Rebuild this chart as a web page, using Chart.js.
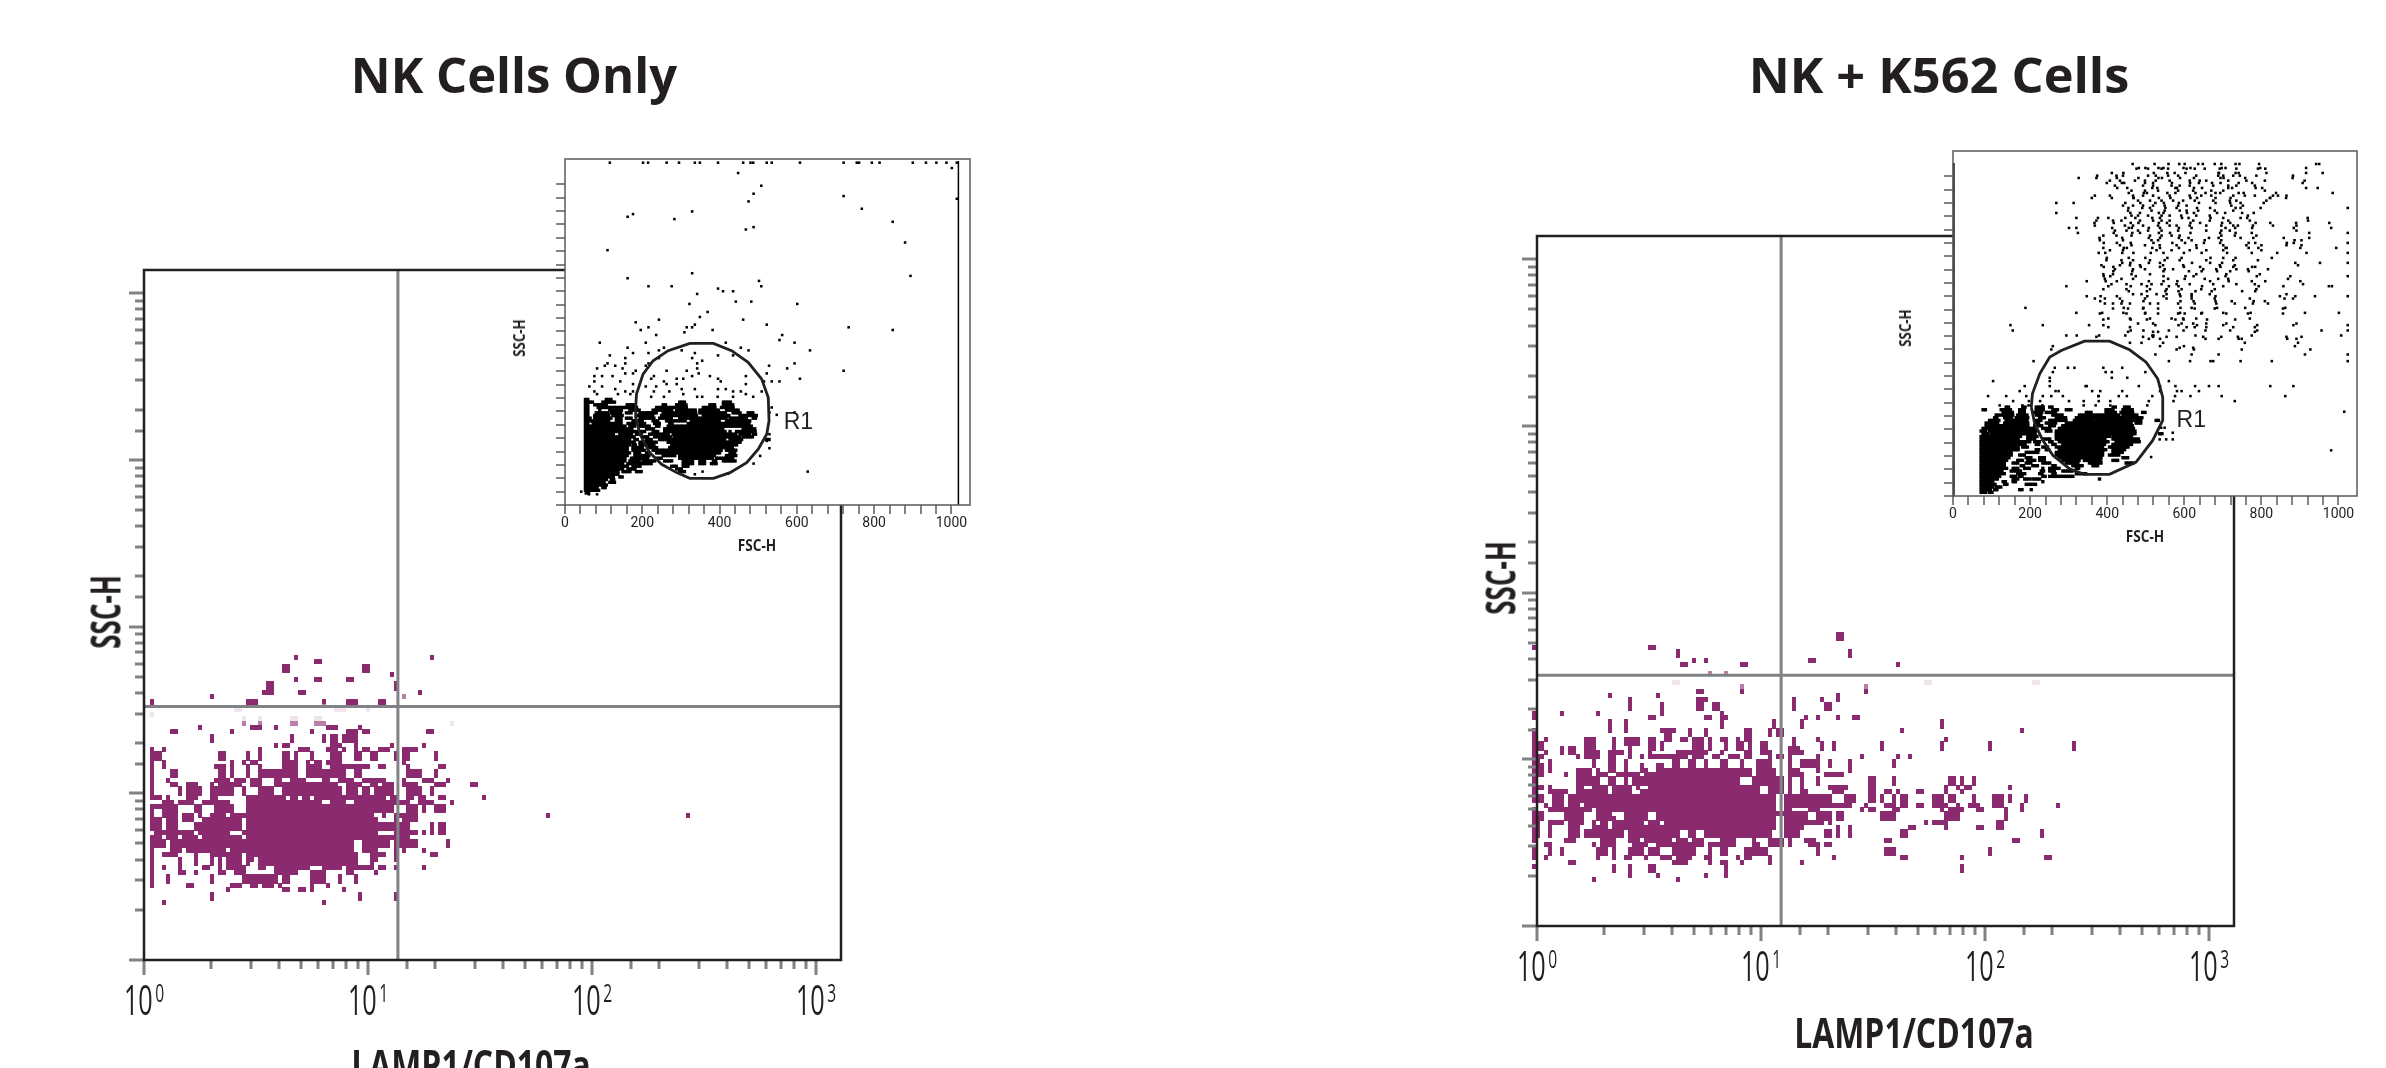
<!DOCTYPE html>
<html>
<head>
<meta charset="utf-8">
<title>NK Cells</title>
<script src="https://cdn.jsdelivr.net/npm/chart.js@4"></script>
<style>
html, body { margin: 0; background: #fff; width: 2386px; height: 1068px; overflow: hidden; }
canvas { position: absolute; }
.lbl { position: absolute; color: #231f20; white-space: nowrap; font-family: "Open Sans"; font-weight: 700; }
.title { font-size: 49px; transform: translate(-50%, -50%); }
.axis { font-size: 42px; transform: translate(-50%, -50%) scaleX(.76); }
.axisv { font-size: 42px; transform: translate(-50%, -50%) rotate(-90deg) scaleX(.62); }
.small { font-size: 16px; transform: translate(-50%, -50%) scaleX(.85); }
.smallv { font-size: 16px; transform: translate(-50%, -50%) rotate(-90deg) scaleX(.83); }
</style>
</head>
<body>
<canvas id="leftMain" style="left:0;top:200px"></canvas>
<canvas id="leftInset" style="left:520px;top:150px"></canvas>
<canvas id="rightMain" style="left:1400px;top:170px"></canvas>
<canvas id="rightInset" style="left:1900px;top:140px"></canvas>

<div class="lbl title" style="left:514px;top:74px">NK Cells Only</div>
<div class="lbl title" style="left:1939px;top:74px;transform:translate(-50%,-50%) scaleX(1.03)">NK + K562 Cells</div>
<div class="lbl axis" style="left:471px;top:1063px">LAMP1/CD107a</div>
<div class="lbl axis" style="left:1914px;top:1031px">LAMP1/CD107a</div>
<div class="lbl axisv" style="left:104px;top:612px">SSC-H</div>
<div class="lbl axisv" style="left:1499px;top:578px">SSC-H</div>
<div class="lbl small" style="left:757px;top:545px">FSC-H</div>
<div class="lbl small" style="left:2145px;top:536px">FSC-H</div>
<div class="lbl smallv" style="left:519px;top:338px">SSC-H</div>
<div class="lbl smallv" style="left:1905px;top:328px">SSC-H</div>

<script>
var decadeBase = "10";
var decadeExponents = ["0", "1", "2", "3"];
var fscLabels = [0, 200, 400, 600, 800, 1000];

// log plots: 56 LAMP1 channels and 38 SSC channels per decade
// each row is [ssc channel, from, to, from, to ...]
var leftCells = [
[69,38,38,72,72],[68,43,44],[67,35,36,55,56],[66,35,36,55,56],[65,62,62],[64,38,38,43,44,51,52],
[63,31,32,63,63],[62,31,32,63,63],[61,30,32,39,40,69,69],[60,17,17],[59,2,2,26,28,45,45,51,53,59,60],
[58,2,2,26,28,51,53,59,60],
[53,14,14,27,29,33,33,46,48,54,54],
[52,7,8,22,22,42,42,51,53,55,56,71,72],
[51,17,17,37,37,45,45,47,48,50,53],
[50,17,17,37,37,45,45,47,48,50,53],
[49,33,33,35,36,47,49,53,53,62,62,70,70],
[48,2,2,5,5,29,29,39,41,46,48,50,50,53,53,55,56,59,61,65,68],
[47,2,4,19,20,26,26,29,29,35,36,38,38,42,42,47,49,53,54,57,58,63,63,65,66,73,73],
[46,2,4,19,20,26,26,29,29,35,36,38,38,42,42,47,49,53,54,57,58,63,63,65,66,73,73],
[45,2,2,5,5,22,22,25,25,27,28,35,38,41,41,43,44,46,49,65,65],
[44,2,2,5,5,18,20,22,22,26,26,29,29,35,38,41,44,47,56,59,60,66,66,74,75],
[43,2,2,7,8,19,20,22,22,26,26,29,38,41,50,53,54,66,69,73,73],
[42,2,2,7,8,19,20,22,22,26,26,29,38,41,50,53,54,66,69,73,73],
[41,2,2,6,6,18,21,23,25,27,29,33,34,37,40,45,46,49,52,55,60,65,65,70,72,76,76],
[40,2,2,7,8,11,13,17,17,19,24,27,29,33,48,51,54,57,58,60,62,65,68,73,75,82,83],
[39,2,2,9,9,11,14,17,22,25,25,29,32,35,49,51,53,55,56,58,62,66,69,72,72],
[38,2,2,9,9,11,14,17,22,25,25,29,32,35,49,51,53,55,56,58,62,66,69,72,72],
[37,2,4,6,6,11,13,17,18,26,35,37,38,40,41,43,60,62,63,66,67,69,70,74,75,85,85],
[36,5,7,9,12,15,21,26,44,47,50,53,60,61,66,69,72,77,77],
[35,2,8,13,14,18,22,26,62,66,68,70,70,73,75],
[34,2,2,5,8,13,14,18,22,26,62,66,68,70,70,73,75],
[33,2,2,5,8,10,12,14,14,17,20,22,57,60,60,63,68,101,101,136,136],
[32,2,4,6,8,10,12,15,24,26,58,63,63,65,68],
[31,2,4,6,8,13,24,26,62,63,66,72,72,74,75],
[30,2,4,6,8,13,24,26,62,63,66,72,72,74,75],
[29,3,12,14,14,15,21,25,58,63,68,70,70,72,72,74,75],
[28,2,4,6,8,10,13,15,24,26,62,63,66],
[27,2,5,7,52,55,61,63,68,76,76],
[26,2,5,7,52,55,61,63,68,76,76],
[25,2,2,7,9,11,20,22,52,55,58,63,63,65,65,70,70],
[24,2,2,5,8,13,13,17,24,26,53,57,60,63,63,72,73],
[23,2,2,9,9,13,13,17,17,19,19,21,24,26,27,29,53,57,58,63,63],
[22,2,2,9,9,13,13,17,17,19,19,21,24,26,26,29,53,57,57],
[21,2,2,5,5,9,9,15,16,19,19,21,25,29,30,33,41,45,49,51,57,59,60,63,63,70,70],
[20,2,2,9,10,13,13,19,20,23,25,33,38,42,45,51,52,58,58],
[19,2,2,6,6,17,17,25,33,35,36,42,45,49,49,53,53],
[18,2,2,6,6,17,17,25,33,35,36,42,45,49,49,53,53],
[17,2,2,11,12,22,24,27,28,30,32,34,34,42,42,46,46],
[16,21,21,35,36,39,40,42,42,50,50],
[15,17,17,54,54,63,63],[14,17,17,54,54,63,63],[13,5,5,45,45]
];
var leftMid = [[60,65,65],[58,45,45],[54,25,25,29,29,37,38,43,45]];
var leftFaint = [[57,23,24,48,50,56,56],[56,2,2],[55,25,25,29,29,37,38,43,44],[54,77,77]];

var rightCells = [
[56,76,77],[55,76,77],[53,0,0,29,30],[52,36,36,79,79],[51,36,36,79,79],[50,40,40,43,43,69,70],[49,37,38,52,53,91,91],
[43,41,42,52,52,83,83],[42,19,19,31,31,76,76],[41,24,24,41,43,65,65,72,72,76,76],
[40,24,24,32,32,41,42,45,46,65,65,73,74],[39,24,24,32,32,41,42,45,46,65,65,73,74],
[38,0,0,7,7,16,16,32,32,47,47],[37,0,0,29,30,43,44,47,48,68,68,71,71,76,76,80,81],
[36,19,19,23,23,47,47,60,60,67,67,102,102],[35,19,19,23,23,47,47,60,60,67,67,102,102],
[34,0,0,19,19,23,23,32,35,39,39,43,43,53,54,59,59,61,62,92,92,122,122],
[33,0,0,33,34,39,39,43,43,53,54,59,59,61,62],
[32,0,0,3,3,13,15,20,20,23,26,29,30,33,34,37,38,40,42,44,44,47,48,51,51,53,54,65,65,71,71,103,103],
[31,0,2,13,15,20,20,23,26,29,30,32,32,40,42,44,44,48,48,51,52,54,54,57,58,65,65,72,72,75,75,87,87,102,102,114,114,135,135],
[30,0,2,7,7,9,10,13,15,20,20,24,24,29,30,32,32,40,42,44,44,48,48,51,52,54,54,57,58,64,66,72,72,75,75,87,87,102,102,114,114,135,135],
[29,0,0,3,3,7,7,9,10,13,15,16,16,19,22,24,24,29,29,36,43,47,47,53,54,57,59,64,66,67,67],
[28,0,2,11,11,13,15,16,16,19,20,24,24,27,27,29,38,40,42,45,46,49,51,53,54,59,59,61,62,64,64,71,71,82,82,91,91,94,94],
[27,0,1,4,4,15,15,19,20,23,23,35,36,39,40,43,43,47,48,52,52,56,59,64,64,67,70,71,71,74,74,79,79,90,90],
[26,0,2,4,4,15,15,19,20,23,23,27,27,31,32,35,36,39,40,43,43,47,48,52,52,56,59,64,64,67,70,71,71,74,74,79,79,90,90],
[25,0,2,4,4,11,14,16,16,19,20,23,23,27,28,31,54,56,60,64,66,71,71,79,79],
[24,0,2,8,8,11,14,16,18,21,26,28,54,56,60,64,66,67,67,73,74,75,77],
[23,0,0,11,16,19,20,23,23,25,34,35,51,55,62,64,64,67,67,71,71,84,85,90,90,104,105,107,107,110,110],
[22,0,0,11,16,19,20,23,23,25,34,35,51,55,62,64,64,67,67,71,71,84,85,90,90,104,105,107,107,110,110],
[21,0,2,4,4,11,12,15,18,20,24,26,26,29,56,59,62,64,64,67,67,74,77,78,78,84,85,103,103,106,106,108,109,119,119],
[20,0,0,4,8,11,18,20,24,27,56,59,62,64,64,67,68,75,77,84,85,88,89,91,91,96,97,103,103,107,107],
[19,0,2,5,7,9,60,63,70,71,74,78,80,84,85,87,87,90,90,92,93,100,102,104,105,110,110,115,117,119,119,123,123],
[18,0,2,5,7,9,60,63,70,71,74,78,80,84,85,87,87,90,90,92,93,100,102,104,105,110,110,115,117,119,119,123,123],
[17,3,3,5,7,9,11,13,60,63,70,71,74,75,79,83,83,88,90,92,93,96,97,100,103,106,106,109,111,115,117,122,122,131,131],
[16,0,0,4,14,16,60,63,64,69,71,82,82,84,85,90,91,102,102,104,107,111,112,118,118,122,122],
[15,0,2,8,12,16,19,23,28,31,62,63,68,71,74,76,77,87,90,103,106,118,118],
[14,0,2,8,12,16,20,23,28,31,60,63,68,71,74,76,77,87,90,103,106,118,118],
[13,0,1,4,7,9,12,15,15,17,18,20,27,29,31,33,60,63,72,74,74,98,98,100,103,116,117],
[12,0,1,4,4,9,11,15,18,20,60,63,67,76,76,79,79,94,95,103,103,111,112,116,117],
[11,0,1,4,4,9,11,13,22,24,36,39,40,43,55,56,59,63,66,73,74,76,76,79,79,92,93,127,127],
[10,0,1,4,4,9,11,13,22,24,36,39,40,43,55,56,59,63,66,73,74,76,76,79,79,92,93,127,127],
[9,0,0,8,10,17,20,24,26,28,34,36,38,40,42,47,50,55,55,59,62,64,64,68,70,88,89,120,121],
[8,3,4,15,15,17,20,25,28,31,34,35,42,44,50,55,56,59,62,64,64,69,71,73,74],
[7,0,0,4,4,7,7,16,18,20,20,24,27,29,31,35,40,44,44,47,48,53,58,71,71,88,90,114,114],
[6,0,0,4,4,7,7,16,18,20,20,24,27,29,31,35,40,44,44,47,48,53,58,71,71,88,90,114,114],
[5,0,0,3,3,16,16,20,20,23,24,28,28,32,34,36,39,43,44,51,51,53,54,59,59,75,75,92,93,107,107,128,129],
[4,9,10,35,38,44,44,47,48,52,52,59,59,67,67],
[3,0,0,20,20,24,24,29,30,48,48,107,107],[2,20,20,24,24,29,30,48,48,107,107],
[1,24,24,31,31,43,43,48,48],[0,15,15,36,36]
];
var rightMid = [[47,44,44,48,48],[44,52,52,83,83]];
var rightFaint = [[45,35,36,98,99,125,126]];

// quadrant gates, in LAMP1 / SSC values
var leftGate = [13.6, 33.2];
var rightGate = [12.3, 31.9];

// scatter insets: FSC-H and SSC-H channels
// dense part: [ssc, from, to, from, to ...], sparse part: [ssc, fsc, fsc ...]
var leftBlob = [
[316,53,60,107,124],[308,53,73,98,129,297,314,410,431],[300,53,64,77,107,161,181,254,263,289,314,375,392,410,435],
[292,53,64,86,159,161,185,237,280,284,319,358,392,405,435],[284,53,60,90,94,116,150,168,194,228,280,289,340,349,401,418,453],
[276,53,64,81,111,120,146,159,176,194,237,254,340,349,418,435,453,474,487],[268,53,60,77,116,124,150,185,228,250,340,358,427,453,496],
[260,53,68,77,120,133,146,159,176,194,232,245,280,297,418,427,470,487,496],[252,53,116,133,150,176,202,228,241,263,314,327,401,418,479],
[244,53,64,73,150,163,185,194,211,232,245,271,280,319,418,422,479],[236,53,155,168,181,194,219,237,245,267,405,410,487],
[228,53,176,211,232,258,410,461,496],[220,53,185,194,211,228,245,258,418,427,431,444,496],
[212,53,129,142,176,185,202,219,271,280,444,453,479,487,496],[204,53,181,202,219,232,276,284,453,461,487],
[196,53,168,181,189,211,224,245,418,427,461,522,530],[188,53,181,194,237,267,453],[180,53,168,176,185,194,232,276,444],
[172,53,163,176,202,219,237,271,435],[164,53,163,176,211,228,280,284,405,418,444],[156,53,168,181,194,211,219,237,276,280,401,427,440],
[148,53,163,181,219,254,289,297,392,418,444],[140,53,159,172,219,237,254,297,384,392,435],
[132,53,159,168,194,202,232,258,280,306,332,349,366,384,392,410,444],[124,53,150,163,228,306,332,349,362,379,392],
[116,53,163,176,194,276,289,306,323],[108,53,150,163,181,289,301],[100,53,142,150,168,185,198,297,310],[92,53,137],
[84,53,129,142,150],[76,53,111,120,129],[68,53,103,116,129],[60,53,107],[52,53,86,98,107],[44,53,77,81,88],[36,55,64]
];
var leftDots = [
[1025,116,202,215,263,295,336,349,396,461,480,487,522,535,608,721,755,761,794,814,900,934,961,987,1014],
[1009,1001],[994,448],[956,508],[932,488],[925,721],[917,1014],[909,475],[887,768],[879,329],[871,176],[863,162],[856,283],[848,848],
[832,488],[825,468],[786,880],[763,110],[694,329],[686,894],[679,162],[671,502],[655,508,216,276],[648,396],[640,409,435],[632,342],
[609,442,482],[602,322,601],[578,369],[563,349],[555,461,243],[547,183],[540,522,336],[532,216,315,329,734],[524,196,382,848],[517,309],
[509,236,562],[494,555],[486,90,209,416,594],[471,162,256,455],[463,243,302,475,634],[455,176,216,336],[448,116,396,435],[440,156,243,329],
[432,355],[424,110,156,216,342,594],[417,103,130,209,528],[409,83,149,342,575],[402,183,263,315,721],[394,156,176,346,522],
[386,76,96,123,230,329,375,468],[378,608,223,289,306,396],[370,76,143,256,403,515,535,555],[362,468,176,263,289],[355,63,96,209,236],
[347,130,302,336,396,416],[340,76,156,176,230,270,435,455,509],[332,83,137,169,306,468],[324,223,256,342,355,395,435,487],
[292,535],[277,594,529],[270,548],[212,529],[192,522],[170,529],[147,505],[124,488],[100,628,356],[94,422],[92,336],[40,42],[32,62,83]
];
var leftR1 = [[183,292],[185,332],[202,392],[228,432],[267,462],[323,484],[384,484],[431,462],[474,427],[509,377],[526,322],[528,252],
[522,212],[500,167],[470,127],[427,97],[384,80],[323,80],[289,97],[250,122],[219,157],[194,212],[183,262],[183,292]];
var leftEdge = [1018];

var rightBlob = [
[267,138,147,181,190,216,238,251,259,415,423,445,458],[259,78,86,125,151,173,190,216,238,259,276,294,307,397,415,441,467],
[251,130,156,173,190,212,233,242,268,346,363,397,423,436,467,492,501],[243,112,121,125,156,168,194,216,233,259,285,328,432,441,480],
[235,108,117,134,156,164,194,225,242,268,294,320,449,454,492],[227,95,121,138,194,216,233,251,294,315,363,371,467,475,488,527,536],
[219,86,121,134,199,216,225,242,268,294,467,475,492],[211,86,194,212,233,251,264,285,467],[203,78,216,233,251,276,471],
[195,73,86,95,216,242,255,268,475],[187,78,95,99,216,268,475,536,544],[179,73,177,194,220,268,406,415,467],
[171,73,173,194,216,233,251,268,397,415,484],[163,73,199,212,225,251,259,276,406,423,484],[155,73,190,216,225,259,268,285,397,415,467],
[147,73,173,181,194,233,246,268,389,406,458],[139,73,173,216,225,242,251,276,397,415,449],[131,73,156,190,225,268,389,415,441],
[123,73,156,173,190,268,389,406,432],[115,73,147,190,207,225,242,276,389,441,458],[107,73,143,168,181,194,216,225,238,285,328,341,384,415,432],
[99,73,138,156,173,190,207,233,251,294,328,354,384,449,467],[91,73,134,177,186,207,220,259,268,311,337,363,380],
[83,73,143,156,168,186,199,233,238,251,276,320,328],[75,73,130,151,177,229,238,251,268,285,311],[67,73,134,168,190,225,233,259,268,320,346],
[59,73,125,151,164,173,181,233,242,251,311],[51,73,117,156,168,186,199,207,225,380,384],[43,73,108,130,138,156,164,233,238],
[35,73,112,134,143,190,216],[27,73,104,112,125],[19,73,99,108,117,173,181,203,207],[11,73,86,95,104]
];
var rightDots = [
[997,466,523,559,587,601,636,648,679,696,733,743,794,942,950],[985,482,499,533,546,598,616,697,707,797,916],
[970,412,442,521,556,575,603,689,690,733,741,813,916,959],[955,326,372,425,481,533,542,589,625,694,702,758,881],
[940,399,438,444,498,519,568,615,638,672,694,741,776,907],[925,426,452,517,530,577,581,625,646,714,724,785,802,916,946],
[910,456,495,503,556,577,629,655,681,693,741,754,838,985],[895,360,412,469,468,534,564,616,633,681,720,822,823,864],
[880,268,313,447,486,525,547,586,638,681,719,746,806],[865,455,491,511,551,580,633,667,733,746,798,1024],
[850,268,460,485,534,546,607,625,685,706,750,780],[835,320,376,403,447,473,517,537,594,611,668,701,746,763,920],
[820,367,417,461,481,534,555,616,641,698,719,785,823,890,976],[805,301,320,413,456,464,508,537,586,619,707,732,776,884,981],
[790,324,417,465,485,534,563,616,693,733,775,924,1024],[775,380,439,508,537,586,611,664,689,746,779,858,924],
[760,391,425,461,520,569,602,651,693,767,784,866,884,1024],[745,390,443,451,517,537,586,632,707,710,767,792,901,994],
[730,378,395,439,468,513,546,599,645,711,775,841,917,1024],[715,399,456,499,556,593,668,701,733,827],
[700,439,460,508,537,620,667,698,888,952,1024],[688,391,416,487,537,599,641,694,727,776,784],[675,416,465,546,612,645,685,719,767],
[660,391,408,474,546,603,624,707,788,875,1024],[645,347,396,425,508,546,582,667,715,775,810,901],
[630,294,403,461,503,560,585,646,701,793,857,975,983],[615,456,503,551,585,629,671,750,784],
[600,347,383,425,504,546,590,619,681,848,888,939,1024],[585,382,439,494,590,624,681,723,780,809],
[565,188,443,494,590,619,685,758,862],[550,320,387,442,499,589,646,701,772,913,1001],[530,390,461,503,577,598,659,732],
[513,149,233,353,390,525,585,633,701,789,883,1024],[497,155,461,494,560,598,655,719,789,956,1024],
[482,294,321,379,447,517,520,629,775,1007],[472,508,537,655,689,741,749,867,891],[450,259,537,599,887],[440,255,580,625,749,927],
[425,525,619,689,913,1024],[405,209,560,615,668,675,746,827,1024],[385,264,298,315,390,439],[372,259,396,412,499],[355,251,412,452],
[345,104,251,560],[330,186,251,344,347,482,537,577,628,664,689,823,883],[315,173,266,274,361,382,439,537,581,593,638],
[300,91,138,190,233,255,285,378,377,430,451,517,576,616,697,862],[285,156,197,226,301,339,378,408,508,572,731],
[272,121,180,196,232,339,370,408,504],[253,1015],[205,540,549],[190,570],[170,570,553,536],[137,981],[117,514],
// second pass over the cloud, between the rows above
[983,476,506,541,558,606,627,653,692,735,791,810],[962,374,424,441,506,526,558,584,631,688,701,727,744,787,882],
[947,407,433,472,498,526,562,614,640,657,714,761,809,912],[932,420,493,519,567,588,614,675,714,735,783],
[917,463,498,532,584,623,670,701,809],[902,368,407,467,493,519,562,614,644,670,727,757,783,830,843,865],
[887,480,511,541,571,597,627,675,718,735,813],[872,441,467,493,519,549,584,606,722,752],
[857,454,515,549,588,606,636,679,727],[842,463,480,506,541,562,592,631,666,765],
[827,372,415,437,485,519,541,562,623,666,714,770,921],[812,368,446,467,493,532,562,580,614,657,696,727,739,778,830,891],
[797,420,450,480,506,541,584,657,696,718,891],[782,390,424,463,511,541,567,588,696,731,787],
[768,381,441,515,532,593,619,653,696,886,904],[753,433,463,498,536,580,631,701,761,800,865,904],
[738,407,441,528,567,614,657,701,800],[708,398,437,467,511,549,588,657,727,791],[693,385,433,459,485,545,597,692,731,895],
[681,420,467,498,549,571,649,683,735,765,817],[666,390,415,463,511,631,709,796],[652,394,437,467,558,601,653,688,714,869],
[636,411,450,489,515,541,580,614,675,735,783,908],[621,390,450,511,554,593,644,679,787],[606,467,489,528,554,588,619,666,865],
[593,368,394,433,498,554,619,679,770,860,882],[578,394,415,437,459,511,532,584,627,683,731,778,817],
[563,415,454,493,532,627,679,856],[548,381,450,498,532,584,601,644,709,765,856],[533,403,459,511,567,597,631,770],
[518,480,519,593,623,657,709,891],[507,403,459,606,627,657,727,783],[493,454,519,532,783],
[478,372,493,519,554,580,649,696,739,865,904],[460,459,489,545,757,895],[445,588,623]
];
var rightR1 = [[203,267],[206,307],[225,367],[251,417],[281,437],[341,465],[406,465],[458,439],[501,402],[531,352],[544,297],[544,227],
[518,167],[475,102],[406,65],[341,65],[302,82],[259,122],[233,167],[212,217],[203,267]];

var purple = "#8b2a6f";
var midPurple = "rgba(139,42,111,0.6)";
var faint = "rgba(139,42,111,0.12)";

function cellPoints(rows, xShift, yShift) {
  var pts = [];
  rows.forEach(function (r) {
    for (var i = 1; i < r.length; i += 2) {
      for (var c = r[i]; c <= r[i + 1]; c++) {
        pts.push({ x: Math.pow(10, (c + xShift) / 56), y: Math.pow(10, (r[0] + yShift) / 38) });
      }
    }
  });
  return pts;
}
function blobPoints(rows) {
  var pts = [];
  rows.forEach(function (r) {
    for (var i = 1; i < r.length; i += 2) {
      for (var c = r[i]; c <= r[i + 1]; c += 6) pts.push({ x: c, y: r[0] });
    }
  });
  return pts;
}
function dotPoints(rows) {
  var pts = [];
  rows.forEach(function (r) {
    r.slice(1).forEach(function (x) { pts.push({ x: x, y: r[0] }); });
  });
  return pts;
}
function pairs(list) {
  return list.map(function (p) { return { x: p[0], y: p[1] }; });
}

// a flow cytometry bin is not square, so the marker is a small canvas
function cellStyle(color) {
  var c = document.createElement("canvas");
  c.width = 4;
  c.height = 5;
  var g = c.getContext("2d");
  g.fillStyle = color;
  g.fillRect(0, 0, 4, 5);
  return c;
}

// 10 + raised exponent, squeezed to the narrow look of the original
function drawDecadeLabel(ctx, px, baseline, exponent) {
  ctx.save();
  ctx.translate(px, baseline);
  ctx.scale(0.6, 1);
  ctx.fillStyle = "#231f20";
  ctx.textBaseline = "alphabetic";
  ctx.font = "42px 'Open Sans'";
  var w = ctx.measureText(decadeBase).width;
  ctx.font = "26px 'Open Sans'";
  var e = ctx.measureText(exponent).width;
  var start = -(w + e + 4) / 2;
  ctx.textAlign = "left";
  ctx.fillText(exponent, start + w + 4, -13);
  ctx.font = "42px 'Open Sans'";
  ctx.fillText(decadeBase, start, 0);
  ctx.restore();
}

var framePlugin = {
  id: "frame",
  beforeDraw: function (chart) {
    var a = chart.chartArea;
    chart.ctx.fillStyle = "#fff";
    chart.ctx.fillRect(a.left, a.top, a.width, a.height);
  },
  afterDatasetsDraw: function (chart, args, o) {
    var ctx = chart.ctx, a = chart.chartArea, x = chart.scales.x, y = chart.scales.y;
    ctx.save();
    ctx.strokeStyle = o.tickColor;
    ctx.lineWidth = o.tickWidth;
    ctx.beginPath();
    x.ticks.forEach(function (t) {
      if (t.value > o.xLast) return;
      var p = Math.round(x.getPixelForValue(t.value));
      var big = o.log && Number.isInteger(Math.log10(t.value));
      ctx.moveTo(p, a.bottom);
      ctx.lineTo(p, a.bottom + (big ? o.majorLen : o.minorLen));
    });
    y.ticks.forEach(function (t) {
      if (t.value > o.yLast) return;
      var p = Math.round(y.getPixelForValue(t.value));
      var big = o.log && Number.isInteger(Math.log10(t.value));
      ctx.moveTo(a.left, p);
      ctx.lineTo(a.left - (big ? o.majorLen : o.minorLen), p);
    });
    ctx.stroke();
    ctx.strokeStyle = o.frameColor;
    ctx.lineWidth = o.frameWidth;
    ctx.strokeRect(a.left, a.top, a.width, a.height);
    if (o.log) {
      decadeExponents.forEach(function (e) {
        drawDecadeLabel(ctx, x.getPixelForValue(Math.pow(10, Number(e))), a.bottom + 55, e);
      });
    }
    if (o.gateText) {
      ctx.fillStyle = "#231f20";
      ctx.font = "23px 'Liberation Sans'";
      ctx.textAlign = "center";
      ctx.textBaseline = "middle";
      ctx.fillText(o.gateText[0], x.getPixelForValue(o.gateText[1]), y.getPixelForValue(o.gateText[2]));
    }
    ctx.restore();
  }
};

function makeChart(id, box, plot, datasets, scales, frame) {
  var el = document.getElementById(id);
  el.width = box.w;
  el.height = box.h;
  scales.y.afterFit = function (s) { s.width = plot.left - box.left; };
  scales.x.afterFit = function (s) { s.height = box.top + box.h - plot.bottom; };
  return new Chart(el, {
    type: "scatter",
    data: { datasets: datasets },
    plugins: [framePlugin],
    options: {
      responsive: false,
      animation: false,
      events: [],
      devicePixelRatio: 1,
      layout: { padding: { top: plot.top - box.top, right: box.left + box.w - plot.right, left: 0, bottom: 0 } },
      scales: scales,
      plugins: { legend: { display: false }, tooltip: { enabled: false }, frame: frame }
    }
  });
}

function logScales(yMax) {
  return {
    x: {
      type: "logarithmic", min: 1, max: Math.pow(10, 697 / 224),
      grid: { display: false }, border: { display: false },
      ticks: { display: false, autoSkip: false }
    },
    y: {
      type: "logarithmic", min: 1, max: yMax,
      grid: { display: false }, border: { display: false },
      ticks: { display: false, autoSkip: false }
    }
  };
}
function insetScales() {
  return {
    x: {
      type: "linear", min: 0, max: 1048,
      grid: { display: false, tickLength: 8 }, border: { display: false },
      ticks: {
        stepSize: 40, autoSkip: false, maxRotation: 0, padding: 2, color: "#231f20",
        font: { family: "Roboto", size: 14 },
        callback: function (v) { return fscLabels.indexOf(v) >= 0 ? String(v) : ""; }
      }
    },
    y: {
      type: "linear", min: 0, max: 1036,
      grid: { display: false }, border: { display: false },
      ticks: { display: false, stepSize: 40, autoSkip: false }
    }
  };
}
function cellSet(points, color, order) {
  return { data: points, pointStyle: cellStyle(color), pointRadius: 2.5, clip: false, order: order };
}
function lineSet(points, color, width) {
  return { data: points, showLine: true, pointRadius: 0, borderColor: color, borderWidth: width, tension: 0, order: 0, clip: false };
}
function dotSet(points, radius) {
  return { data: points, pointStyle: "rect", pointRadius: radius, backgroundColor: "#000", borderWidth: 0, order: 2 };
}
function gateLines(g, yMax) {
  return [
    lineSet([{ x: g[0], y: 1 }, { x: g[0], y: yMax }], "#808285", 3),
    lineSet([{ x: 1, y: g[1] }, { x: Math.pow(10, 697 / 224), y: g[1] }], "#808285", 3)
  ];
}

var yMax = Math.pow(10, 690 / 166.7);
var mainFrame = { log: true, tickColor: "#808285", tickWidth: 3, frameColor: "#231f20", frameWidth: 2.5, majorLen: 15, minorLen: 9, xLast: 1000, yLast: 10000 };

makeChart("leftMain", { left: 0, top: 200, w: 900, h: 868 }, { left: 144, top: 270, right: 841, bottom: 960 },
  [cellSet(cellPoints(leftCells, 0, 0), purple, 1), cellSet(cellPoints(leftMid, 0, 0), midPurple, 1), cellSet(cellPoints(leftFaint, 0, 0), faint, 1)].concat(gateLines(leftGate, yMax)),
  logScales(yMax), mainFrame);

makeChart("rightMain", { left: 1400, top: 170, w: 900, h: 898 }, { left: 1537, top: 236, right: 2234, bottom: 926 },
  [cellSet(cellPoints(rightCells, -0.75, 10.55), purple, 1), cellSet(cellPoints(rightMid, -0.75, 10.55), midPurple, 1), cellSet(cellPoints(rightFaint, -0.75, 10.55), faint, 1)].concat(gateLines(rightGate, yMax)),
  logScales(yMax), mainFrame);

var insetFrame = { log: false, tickColor: "#58595b", tickWidth: 1.5, frameColor: "#58595b", frameWidth: 1.5, majorLen: 9, minorLen: 9, xLast: 1000, yLast: 1000 };

makeChart("leftInset", { left: 520, top: 150, w: 480, h: 400 }, { left: 565, top: 159, right: 970, bottom: 505 },
  [dotSet(blobPoints(leftBlob), 2.4), dotSet(dotPoints(leftDots), 1.8), lineSet(pairs(leftR1), "#231f20", 2.8),
   lineSet([{ x: leftEdge[0], y: 0 }, { x: leftEdge[0], y: 1030 }], "#000", 1.5)],
  insetScales(), Object.assign({ gateText: ["R1", 604, 247] }, insetFrame));

makeChart("rightInset", { left: 1900, top: 140, w: 480, h: 410 }, { left: 1953, top: 151, right: 2357, bottom: 496 },
  [dotSet(blobPoints(rightBlob), 2.4), dotSet(dotPoints(rightDots), 1.8), lineSet(pairs(rightR1), "#231f20", 2.8),
   lineSet([{ x: 2, y: 0 }, { x: 2, y: 1000 }], "#231f20", 2)],
  insetScales(), Object.assign({ gateText: ["R1", 618, 227] }, insetFrame));
</script>
</body>
</html>
